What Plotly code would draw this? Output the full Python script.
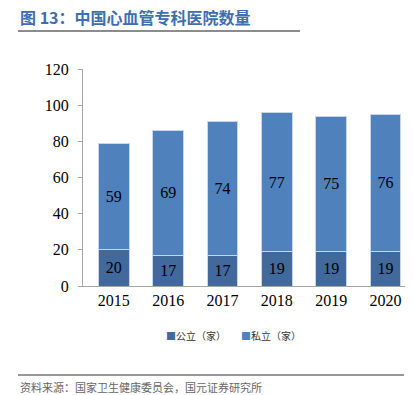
import plotly.graph_objects as go

years = ["2015", "2016", "2017", "2018", "2019", "2020"]
public_vals = [20, 17, 17, 19, 19, 19]
private_vals = [59, 69, 74, 77, 75, 76]
y_ticks = [0, 20, 40, 60, 80, 100, 120]
series_names = ["公立（家）", "私立（家）"]
series_colors = ["#41699c", "#4f81bd"]

W, H = 414, 395
L, R, T, B = 83, 9, 69, 109
PW, PH = W - L - R, H - T - B

def px(x):
    return (x - L) / PW

def py(y):
    return (H - B - y) / PH

serif = "Liberation Serif, Times New Roman, serif"
cjk = "Noto Sans CJK SC, sans-serif"

fig = go.Figure()
for name, vals, col in zip(series_names, [public_vals, private_vals], series_colors):
    fig.add_trace(go.Bar(
        x=years, y=vals, name=name,
        marker=dict(color=col, line=dict(color="#c9d6e8", width=1)),
        text=[str(v) for v in vals], textposition="inside",
        insidetextanchor="middle",
        textfont=dict(family=serif, size=16, color="#000000"),
        hoverinfo="skip",
    ))

fig.update_layout(
    barmode="stack", bargap=0.43,
    width=W, height=H,
    margin=dict(l=L, r=R, t=T, b=B, autoexpand=False),
    paper_bgcolor="white", plot_bgcolor="white",
    showlegend=False,
    uniformtext=dict(mode="show", minsize=8),
    xaxis=dict(range=[-0.567, 5.359], showline=True, linecolor="#a6a6a6", linewidth=1, ticks="",
               tickfont=dict(family=serif, size=16, color="#000000")),
    yaxis=dict(range=[0, 120], tickvals=y_ticks, showgrid=False, zeroline=False,
               showline=True, linecolor="#a6a6a6", linewidth=1,
               ticks="outside", ticklen=4, tickcolor="#a6a6a6",
               ticklabelstandoff=6,
               tickfont=dict(family=serif, size=16, color="#000000")),
)

# legend drawn as text items
legend_x = [164, 239]
for lx, name, col in zip(legend_x, series_names, series_colors):
    fig.add_annotation(xref="paper", yref="paper", x=px(lx), y=py(335),
                       xanchor="left", yanchor="middle", showarrow=False,
                       text=f"<span style='color:{col}'>■</span>{name}",
                       font=dict(family=cjk, size=10, color="#333333"))

fig.add_annotation(xref="paper", yref="paper", x=px(18), y=py(17),
                   xanchor="left", yanchor="middle", showarrow=False,
                   text="<b>图 13：中国心血管专科医院数量</b>",
                   font=dict(family=cjk, size=16, color="#3d6eb0"))
fig.add_shape(type="line", xref="paper", yref="paper",
              x0=px(18), x1=px(300), y0=py(31), y1=py(31),
              line=dict(color="#8c8c8c", width=2))
fig.add_shape(type="line", xref="paper", yref="paper",
              x0=px(18), x1=px(404), y0=py(375), y1=py(375),
              line=dict(color="#333333", width=1))
fig.add_annotation(xref="paper", yref="paper", x=px(18), y=py(387),
                   xanchor="left", yanchor="middle", showarrow=False,
                   text="资料来源：国家卫生健康委员会，国元证券研究所",
                   font=dict(family=cjk, size=11, color="#666666"))

fig.write_html("out.html", config={"displayModeBar": False},
               post_script="document.body.style.margin='0';document.body.style.overflow='hidden';")
